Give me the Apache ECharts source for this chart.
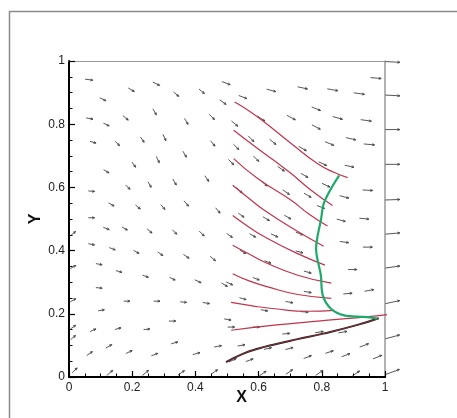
<!DOCTYPE html>
<html>
<head>
<meta charset="utf-8">
<script src="https://cdn.jsdelivr.net/npm/echarts@6/dist/echarts.min.js"></script>
<style>html,body{margin:0;padding:0;background:#fff;}#c{width:457px;height:418px;}</style>
</head>
<body>
<div id="c"></div>
<script>
// ---- tick labels ----
const xTickValues = [0, 0.2, 0.4, 0.6, 0.8, 1];
const yTickValues = [0, 0.2, 0.4, 0.6, 0.8, 1];

// ---- vector field (centre x, centre y, angle deg, length) ----
const vecX = [0.063,0.107,0.197,0.276,0.339,0.420,0.497,0.487,0.065,0.118,0.179,0.271,0.371,0.452,0.076,0.153,0.232,0.302,0.366,0.455,0.118,0.205,0.281,0.071,0.186,0.255,0.334,0.436,0.134,0.218,0.297,0.371,0.471,0.071,0.118,0.176,0.255,0.334,0.420,
0.013,0.071,0.137,0.213,0.289,0.371,0.455,0.013,0.095,0.158,0.242,0.327,0.408,0.492,0.095,0.013,0.183,0.278,0.362,0.434,0.102,0.502,0.327,0.013,0.076,0.155,0.246,0.013,0.126,0.334,0.471,0.065,0.190,0.271,0.403,0.018,0.129,0.242,0.355,0.460,0.518,
0.550,0.640,0.739,0.834,0.918,0.971,0.608,0.703,0.782,0.850,0.940,0.524,0.576,0.645,0.739,0.782,0.824,0.892,0.950,0.529,0.513,0.592,0.671,0.803,0.887,0.539,0.618,0.687,0.745,0.813,0.871,0.945,0.545,0.624,0.692,0.755,0.797,0.861,0.934,0.581,0.650,
0.508,0.729,0.871,0.945,0.550,0.629,0.729,0.755,0.897,0.508,0.592,0.697,0.755,0.882,0.950,0.550,0.618,0.745,0.513,0.592,0.687,0.792,0.866,0.934,0.545,0.629,0.697,0.824,0.755,0.876,0.976,0.571,0.613,0.697,0.792,0.908,
1.024,1.024,1.024,1.024,1.024,1.024,1.024,1.024,1.024,1.024];
const vecY = [0.941,0.879,0.909,0.928,0.895,0.904,0.930,0.870,0.818,0.799,0.820,0.839,0.809,0.823,0.743,0.739,0.751,0.758,0.705,0.739,0.651,0.672,0.688,0.588,0.601,0.609,0.617,0.628,0.546,0.538,0.538,0.549,0.527,0.504,0.470,0.470,0.462,0.459,0.454,
0.454,0.420,0.406,0.396,0.390,0.382,0.375,0.348,0.357,0.334,0.319,0.311,0.303,0.292,0.282,0.243,0.240,0.240,0.237,0.234,0.211,0.182,0.177,0.158,0.148,0.153,0.151,0.125,0.097,0.108,0.097,0.074,0.079,0.071,0.074,0.021,0.013,0.013,0.013,0.016,0.053,
0.886,0.907,0.915,0.909,0.897,0.946,0.818,0.821,0.849,0.820,0.812,0.802,0.754,0.744,0.723,0.791,0.739,0.754,0.736,0.728,0.680,0.691,0.659,0.675,0.667,0.591,0.612,0.585,0.638,0.607,0.570,0.591,0.512,0.501,0.506,0.575,0.538,0.496,0.501,0.448,0.448,
0.448,0.454,0.427,0.411,0.396,0.364,0.396,0.332,0.340,0.296,0.311,0.237,0.269,0.264,0.274,0.248,0.211,0.206,0.158,0.158,0.137,0.142,0.142,0.100,0.100,0.090,0.090,0.079,0.063,0.069,0.063,0.053,0.011,0.016,0.013,0.011,
0.997,0.891,0.783,0.673,0.561,0.454,0.348,0.237,0.127,0.016];
const vecAng = [-8,-25,-30,-25,-40,-40,-20,-35,-10,-25,-40,-60,-60,-45,-15,-45,-55,-65,-60,-50,-30,-55,-65,-5,-45,-60,-60,-55,-30,-40,-50,-50,-50,0,-20,-30,-40,-45,-45,
40,-10,-20,-30,-35,-35,-40,30,-10,-15,-20,-25,-25,-30,-5,30,0,0,-5,-10,10,-10,0,35,25,15,5,40,30,15,10,35,25,20,15,45,40,40,35,35,25,
-20,-15,-12,-10,-8,-5,-35,-28,-22,-15,-8,-40,-45,-40,-30,-28,-22,-12,-5,-45,-45,-45,-35,-25,-12,-45,-40,-35,-30,-25,-15,-3,-35,-30,-30,-30,-20,-15,-5,-30,-25,
-35,-20,-8,0,-30,-20,-15,-15,0,-25,-20,-10,-10,5,10,-15,-10,-5,0,0,5,8,10,20,10,12,15,18,20,20,22,20,35,35,35,35,
-3,-3,0,0,2,5,8,12,15,20];
const vecLen = [0.025,0.022,0.022,0.024,0.022,0.022,0.028,0.025,0.022,0.020,0.022,0.022,0.022,0.024,0.020,0.020,0.020,0.022,0.022,0.022,0.020,0.020,0.022,0.020,0.020,0.020,0.022,0.022,0.020,0.020,0.020,0.022,0.022,0.020,0.020,0.020,0.020,0.020,0.022,
0.020,0.020,0.020,0.020,0.020,0.022,0.022,0.020,0.020,0.020,0.020,0.020,0.022,0.022,0.020,0.020,0.020,0.020,0.020,0.022,0.020,0.022,0.022,0.020,0.020,0.020,0.020,0.020,0.022,0.022,0.024,0.022,0.022,0.022,0.024,0.022,0.025,0.025,0.025,0.025,0.025,
0.028,0.030,0.032,0.034,0.034,0.034,0.028,0.030,0.030,0.032,0.034,0.026,0.026,0.026,0.028,0.030,0.030,0.032,0.034,0.024,0.024,0.024,0.026,0.028,0.030,0.024,0.024,0.026,0.026,0.028,0.030,0.032,0.022,0.024,0.024,0.026,0.026,0.028,0.030,0.022,0.024,
0.022,0.024,0.028,0.030,0.022,0.022,0.024,0.024,0.028,0.022,0.022,0.024,0.024,0.028,0.030,0.022,0.022,0.024,0.022,0.022,0.024,0.026,0.028,0.030,0.024,0.024,0.025,0.026,0.026,0.028,0.030,0.025,0.026,0.026,0.028,0.028,
0.046,0.046,0.046,0.046,0.046,0.046,0.046,0.046,0.046,0.046];

// ---- trajectories ----
const red1 = [[0.524,0.870],[0.570,0.842],[0.618,0.807],[0.703,0.739],[0.787,0.675],[0.840,0.647],[0.882,0.631]];
const red2 = [[0.521,0.781],[0.597,0.723],[0.650,0.684],[0.703,0.644],[0.766,0.591],[0.834,0.543]];
const red3 = [[0.521,0.691],[0.597,0.628],[0.703,0.559],[0.760,0.515],[0.818,0.478]];
const red4 = [[0.518,0.607],[0.570,0.565],[0.618,0.528],[0.720,0.463],[0.806,0.414]];
const red5 = [[0.518,0.511],[0.570,0.474],[0.620,0.443],[0.720,0.392],[0.810,0.354]];
const red6 = [[0.518,0.417],[0.570,0.389],[0.618,0.364],[0.724,0.322],[0.830,0.297]];
const red7 = [[0.518,0.327],[0.570,0.304],[0.629,0.285],[0.724,0.261],[0.830,0.249]];
const red8 = [[0.513,0.236],[0.580,0.225],[0.650,0.216],[0.755,0.208],[0.840,0.211]];
const red9 = [[0.513,0.148],[0.650,0.164],[0.820,0.180],[0.940,0.190],[1.030,0.200]];
const blackLine = [[0.497,0.047],[0.550,0.073],[0.600,0.090],[0.650,0.103],[0.720,0.119],[0.808,0.138],[0.913,0.165],[0.980,0.186]];
const greenLine = [[0.855,0.638],[0.808,0.554],[0.797,0.496],[0.787,0.448],[0.782,0.406],[0.797,0.322],[0.803,0.259],[0.829,0.216],[0.871,0.195],[0.934,0.190],[0.976,0.185]];
const xAxisExtension = [[1,0],[1.086,0]];

const redLines = [red1, red2, red3, red4, red5, red6, red7, red8, red9];
const RED = '#c0344c';

const vecData = vecX.map((x, i) => [x, vecY[i], vecAng[i], vecLen[i]]);

function renderArrow(params, api) {
  const x = api.value(0), y = api.value(1);
  const a = api.value(2) * Math.PI / 180, L = api.value(3);
  const u = L * Math.cos(a), v = L * Math.sin(a);
  const p0 = api.coord([x - u / 2, y - v / 2]);
  const p1 = api.coord([x + u / 2, y + v / 2]);
  const ang = Math.atan2(p1[1] - p0[1], p1[0] - p0[0]);
  const h = 2.6, s = 0.42;
  const h1 = [p1[0] - h * Math.cos(ang - s), p1[1] - h * Math.sin(ang - s)];
  const h2 = [p1[0] - h * Math.cos(ang + s), p1[1] - h * Math.sin(ang + s)];
  return {
    type: 'group',
    children: [
      { type: 'line', shape: { x1: p0[0], y1: p0[1], x2: p1[0], y2: p1[1] }, style: { stroke: '#444', lineWidth: 0.9 } },
      { type: 'polyline', shape: { points: [h1, p1, h2] }, style: { stroke: '#444', lineWidth: 0.9, fill: null } }
    ]
  };
}

const series = [];
series.push({ type: 'custom', renderItem: renderArrow, data: vecData, clip: false, silent: true, z: 2, encode: { x: 0, y: 1 } });
redLines.forEach(d => series.push({ type: 'line', data: d, smooth: 0.5, symbol: 'none', clip: false, silent: true, z: 3, lineStyle: { color: RED, width: 1.2 } }));
series.push({ type: 'line', data: blackLine, smooth: 0.5, symbol: 'none', clip: false, silent: true, z: 3, lineStyle: { color: '#222', width: 2 } });
series.push({ type: 'line', data: blackLine, smooth: 0.5, symbol: 'none', clip: false, silent: true, z: 4, lineStyle: { color: '#b03040', width: 0.7 } });
series.push({ type: 'line', data: greenLine, smooth: 0.35, symbol: 'none', clip: false, silent: true, z: 5, lineStyle: { color: '#1fa96a', width: 2.2 } });
series.push({ type: 'line', data: xAxisExtension, symbol: 'none', clip: false, silent: true, z: 6, lineStyle: { color: '#000', width: 2 } });

const chart = echarts.init(document.getElementById('c'), null, { renderer: 'canvas' });
chart.setOption({
  animation: false,
  backgroundColor: '#fff',
  graphic: [{ type: 'rect', shape: { x: 9.5, y: 11.5, width: 460, height: 420 }, style: { fill: 'none', stroke: '#8a8a8a', lineWidth: 1.5 }, silent: true, z: -10 }],
  grid: { left: 69, top: 61, width: 316, height: 316 },
  xAxis: [
    {
      type: 'value', min: xTickValues[0], max: xTickValues[xTickValues.length - 1], interval: 0.2, position: 'bottom',
      name: 'X', nameLocation: 'middle', nameGap: 13, nameMoveOverlap: false,
      nameTextStyle: { fontFamily: 'Liberation Sans', fontWeight: 'bold', fontSize: 16, color: '#111', padding: [0, 0, 0, 29] },
      axisLine: { show: true, onZero: false, lineStyle: { color: '#000', width: 2 } },
      axisTick: { show: true, inside: true, length: 6, lineStyle: { color: '#000', width: 1.2 } },
      minorTick: { show: true, splitNumber: 4, length: 3.5, lineStyle: { color: '#000', width: 1 } },
      axisLabel: { margin: 5, fontFamily: 'Liberation Sans', fontSize: 12, color: '#222', formatter: v => String(v) },
      splitLine: { show: false }
    },
    {
      type: 'value', min: 0, max: 1, position: 'top',
      axisLine: { show: true, onZero: false, lineStyle: { color: '#999', width: 1 } },
      axisTick: { show: false }, axisLabel: { show: false }, splitLine: { show: false }
    }
  ],
  yAxis: [
    {
      type: 'value', min: yTickValues[0], max: yTickValues[yTickValues.length - 1], interval: 0.2, position: 'left',
      name: 'Y', nameLocation: 'middle', nameGap: 25, nameRotate: 90, nameMoveOverlap: false,
      nameTextStyle: { fontFamily: 'Liberation Sans', fontWeight: 'bold', fontSize: 16, color: '#111' },
      axisLine: { show: true, onZero: false, lineStyle: { color: '#000', width: 2 } },
      axisTick: { show: true, inside: true, length: 6, lineStyle: { color: '#000', width: 1.2 } },
      minorTick: { show: true, splitNumber: 4, length: 3.5, lineStyle: { color: '#000', width: 1 } },
      axisLabel: { margin: 4, fontFamily: 'Liberation Sans', fontSize: 12, color: '#222', formatter: v => String(v) },
      splitLine: { show: false }
    },
    {
      type: 'value', min: 0, max: 1, position: 'right',
      axisLine: { show: true, onZero: false, lineStyle: { color: '#999', width: 1.5 } },
      axisTick: { show: false }, axisLabel: { show: false }, splitLine: { show: false }
    }
  ],
  series: series
});
</script>
</body>
</html>
